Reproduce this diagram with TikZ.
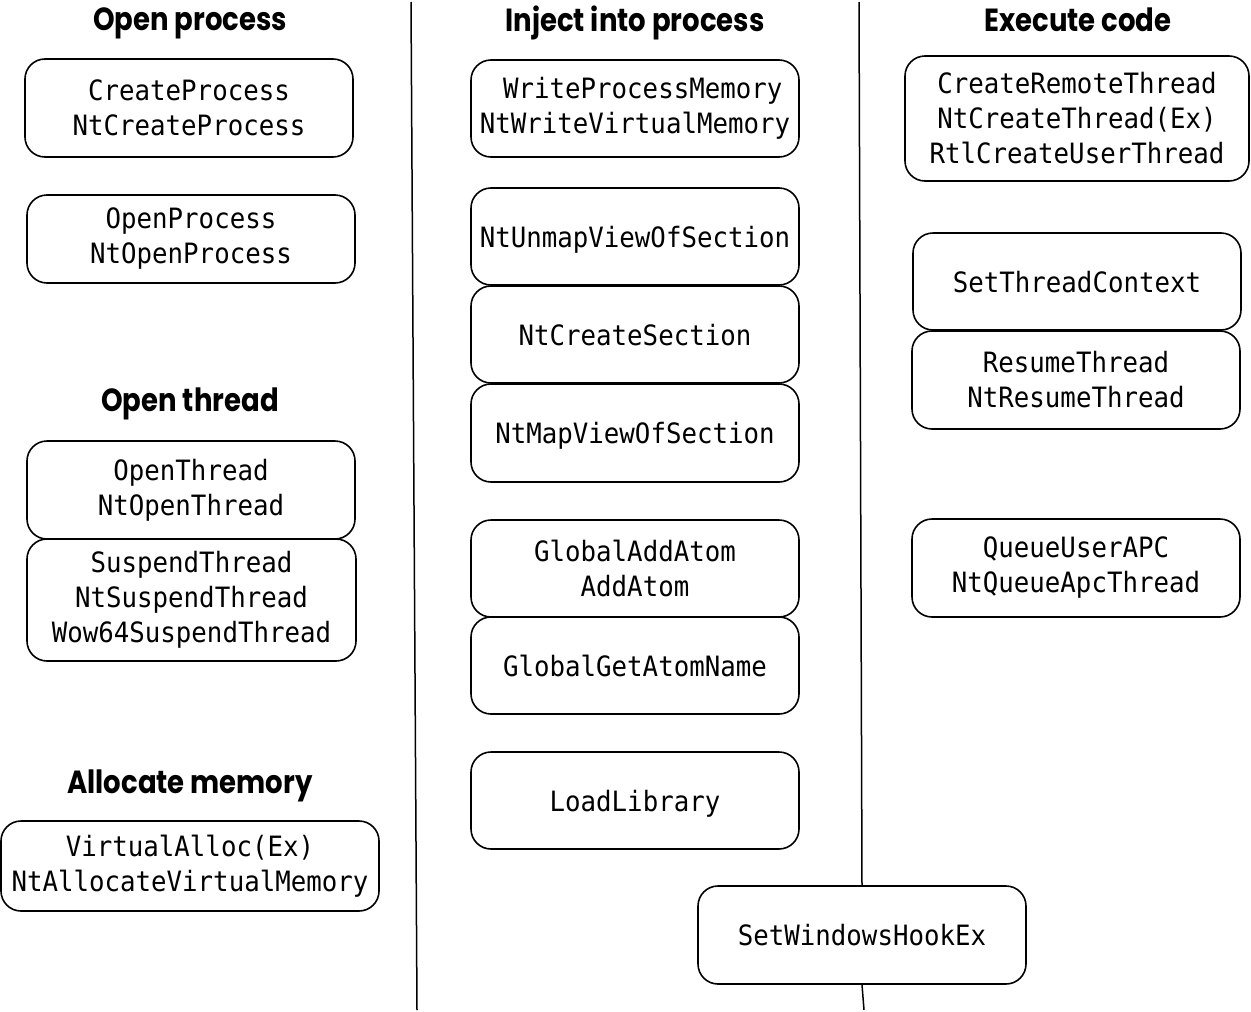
\documentclass[tikz,border=0pt]{standalone}
\usepackage{fontspec}
\newfontfamily\headfont[FakeStretch=0.86]{Poppins}
\newfontfamily\monofont[FakeStretch=0.92]{DejaVu Sans Mono}
\begin{document}
\begin{tikzpicture}[x=1pt,y=-1pt,
  box/.style={draw, line width=1.6pt, rounded corners=20pt, inner sep=0pt,
    minimum width=328pt, minimum height=97pt, align=center,
    font=\monofont\fontsize{28}{35}\selectfont},
  oneline/.style={text depth=0pt},
  head/.style={inner sep=0pt, anchor=base, font=\headfont\bfseries\fontsize{32}{36}\selectfont},
  divider/.style={line width=1.5pt}]
\useasboundingbox (0,0) rectangle (1251,1012);
% headings
\node[head] (h1) at (190,30) {Open process};
\node[head] (h2) at (635,31) {Inject into process};
\node[head] (h3) at (1078,31) {Execute code};
\node[head] (h4) at (190,411) {Open thread};
\node[head] (h5) at (190,793) {Allocate memory};
% left column
\node[box, minimum height=98pt] (cp) at (189,108) {CreateProcess\\NtCreateProcess};
\node[box, minimum height=88pt] (op) at (191,239) {OpenProcess\\NtOpenProcess};
\node[box, minimum height=98pt] (ot) at (191,490) {OpenThread\\NtOpenThread};
\node[box, minimum width=329pt, minimum height=122pt] (st) at (191.5,600) {SuspendThread\\NtSuspendThread\\Wow64SuspendThread};
\node[box, minimum width=378pt, minimum height=90pt] (va) at (190,866) {VirtualAlloc(Ex)\\NtAllocateVirtualMemory};
% middle column
\node[box] (wpm) at (635,108.5) {\ WriteProcessMemory\\NtWriteVirtualMemory};
\node[box, oneline] (unmap) at (635,236.5) {NtUnmapViewOfSection};
\node[box, oneline] (cs) at (635,334.5) {NtCreateSection};
\node[box, oneline, minimum height=98pt] (map) at (635,433) {NtMapViewOfSection};
\node[box] (gaa) at (635,568.5) {GlobalAddAtom\\AddAtom};
\node[box, oneline] (ggan) at (635,665.5) {GlobalGetAtomName};
\node[box, oneline] (ll) at (635,800.5) {LoadLibrary};
\node[box, oneline, minimum height=98pt] (swh) at (862,935) {SetWindowsHookEx};
% right column
\node[box, minimum width=344pt, minimum height=125pt] (crt) at (1077,118.5) {CreateRemoteThread\\NtCreateThread(Ex)\\RtlCreateUserThread};
\node[box, oneline] (stc) at (1077,281.5) {SetThreadContext};
\node[box, minimum height=98pt] (rt) at (1076,380) {ResumeThread\\NtResumeThread};
\node[box, minimum height=98pt] (qua) at (1076,568) {QueueUserAPC\\NtQueueApcThread};
% dividers
\coordinate (l1t) at (411,2);
\coordinate (l1b) at (417,1010);
\coordinate (r1t) at (859,2);
\coordinate (r1b) at (864,1010);
\draw[divider] (l1t) -- (l1b);
\draw[divider] (r1t) -- (swh.north);
\draw[divider] (swh.south) -- (r1b);
\end{tikzpicture}
\end{document}
